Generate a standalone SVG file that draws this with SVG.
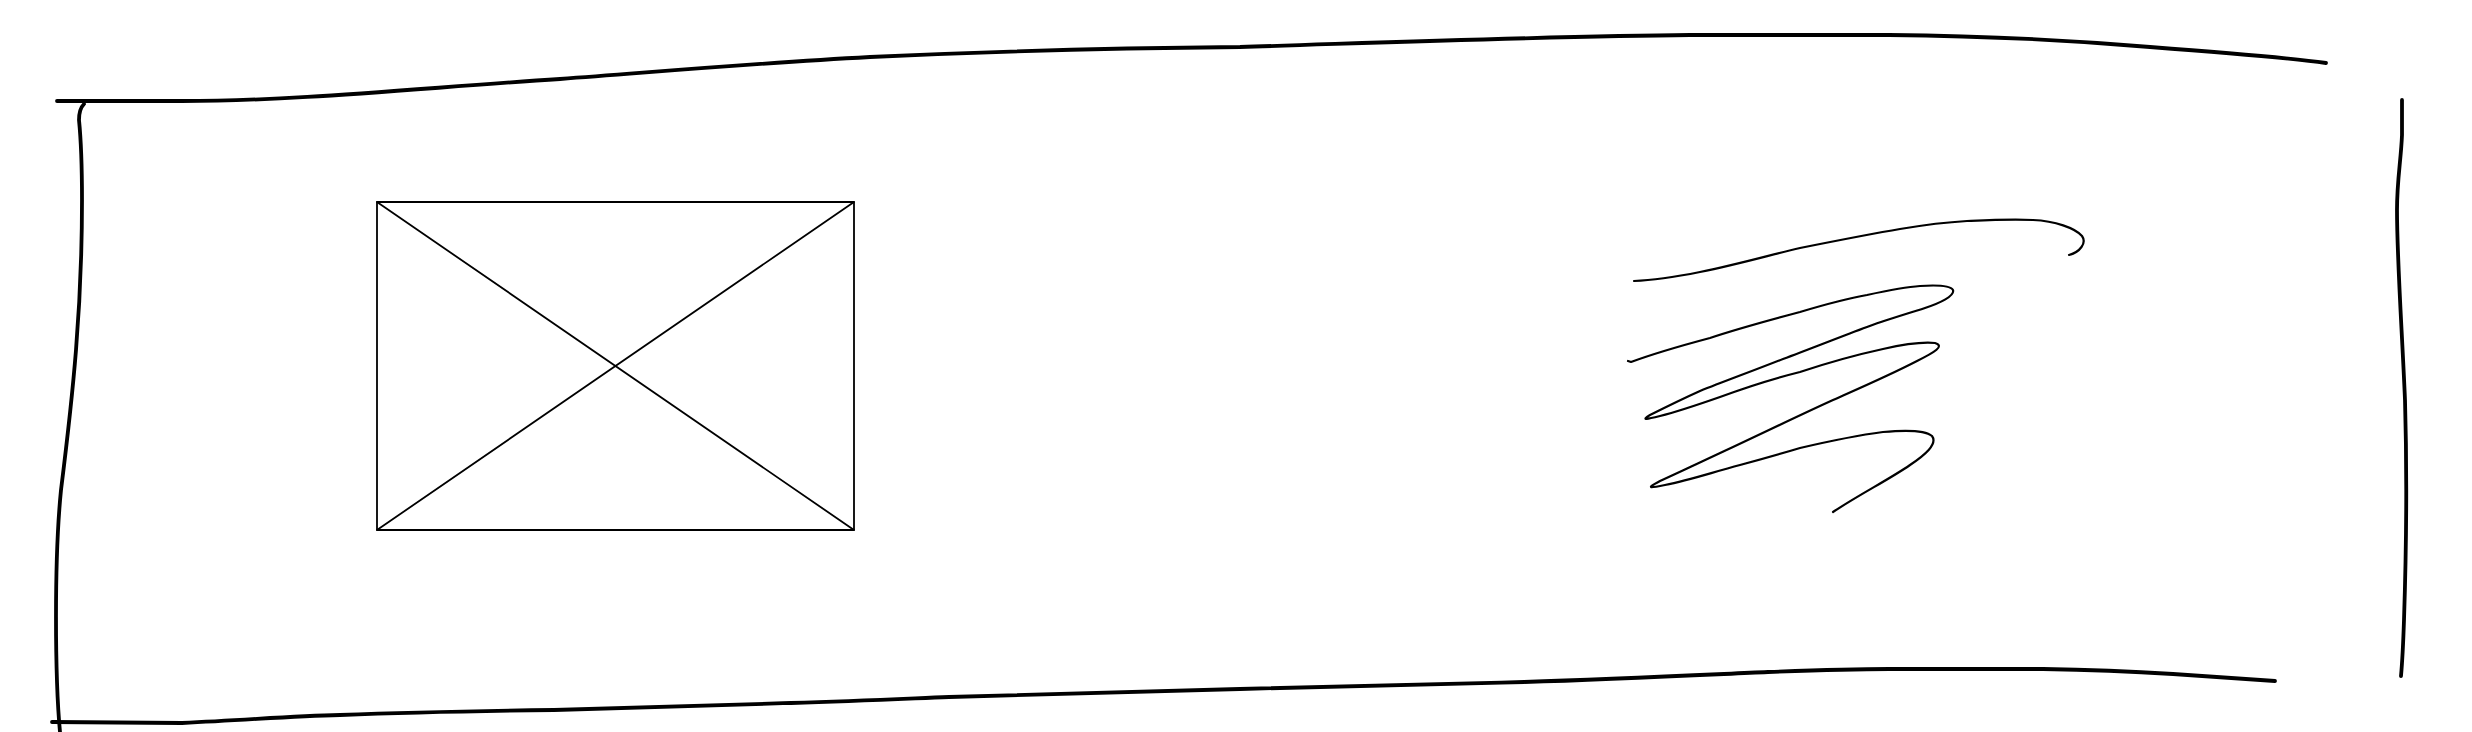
<svg xmlns="http://www.w3.org/2000/svg" width="2472" height="732" viewBox="0 0 2472 732">
<style>
.ink{fill:none;stroke:#000;stroke-linecap:round;stroke-linejoin:round}
.frame{stroke-width:3.8}
.thin{stroke-width:1.8}
.scrib{stroke-width:2.2}
</style>
<rect x="0" y="0" width="2472" height="732" fill="#fff"/>
<g id="frame">
<path class="ink frame" d="M57,101 L182,101 C300,101 420,88 560,79 C680,70 760,63 870,57 C1000,51 1130,48 1240,47 C1400,42 1560,36 1690,35 L1889,35 C1990,36 2080,41 2150,47 C2230,53 2290,58 2326,63"/>
<path class="ink frame" d="M52,722 L182,723 C250,720 290,716 340,715 C420,712 480,711 554,710 C650,707 720,705 791,703 C860,701 900,699 949,697 C1060,694 1150,692 1240,689 C1360,686 1440,684 1524,682 C1620,679 1700,675 1768,672 C1820,670 1860,669 1889,669 L2043,669 C2100,670 2140,672 2173,674 C2220,677 2250,679 2275,681"/>
<path class="ink frame" d="M84,104 C80,108 79,113 79,120 C81,140 82,160 82,200 C82,260 80,300 76,350 C72,400 66,450 61,490 C57,530 56,570 56,617 C56,660 57,700 60,732"/>
<path class="ink frame" d="M2402,100 L2402,135 C2401,160 2397,180 2397,210 C2397,260 2402,330 2405,400 C2407,470 2406,560 2404,620 C2403,650 2402,665 2401,676"/>
</g>
<g id="image-placeholder">
<rect class="ink thin" x="377" y="202" width="477" height="328"/>
<line class="ink thin" x1="377" y1="202" x2="854" y2="530"/>
<line class="ink thin" x1="854" y1="202" x2="377" y2="530"/>
</g>
<g id="text-scribble">
<path class="ink scrib" d="M1634,281 C1660,280 1680,276 1700,272 C1740,264 1770,255 1800,248 C1840,240 1870,234 1900,229 C1930,224 1950,222 1967,221 C1990,220 2010,219 2033,220 C2055,221 2075,228 2082,236 C2087,243 2080,252 2069,255"/>
<path class="ink scrib" d="M1628,361 L1631,362 C1650,355 1680,346 1710,338 C1740,328 1770,320 1800,312 C1830,303 1850,298 1867,295 C1890,290 1905,287 1920,286 C1935,285 1950,285 1953,290 C1955,296 1940,303 1925,308 C1900,316 1880,322 1867,327 C1840,337 1810,349 1783,359 C1750,372 1725,381 1700,391 C1680,400 1660,410 1650,415 C1640,421 1648,419 1660,416 C1680,411 1700,404 1720,397 C1750,386 1780,377 1800,372 C1830,362 1860,354 1883,349 C1905,344 1925,342 1935,343 C1945,346 1935,352 1917,361 C1890,375 1860,388 1833,400 C1800,415 1765,432 1733,447 C1705,460 1680,472 1660,481 C1645,489 1650,488 1665,485 C1690,480 1710,473 1740,465 C1770,457 1790,451 1800,448 C1830,441 1860,435 1883,432 C1905,430 1925,430 1932,436 C1938,444 1925,455 1910,465 C1890,479 1860,494 1833,512"/>
</g>
<g id="connectors"></g>
</svg>
